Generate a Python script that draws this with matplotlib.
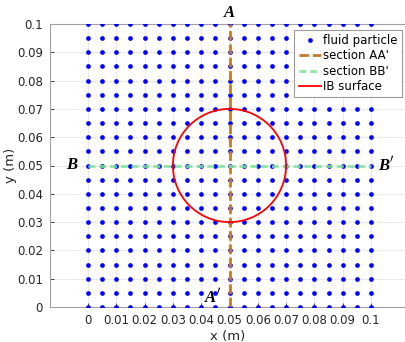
import numpy as np
import matplotlib.pyplot as plt
from matplotlib.patches import Circle

# grid of fluid particles
x_nodes = [0, 0.005, 0.01, 0.015, 0.02, 0.025, 0.03, 0.035, 0.04, 0.045, 0.05,
           0.055, 0.06, 0.065, 0.07, 0.075, 0.08, 0.085, 0.09, 0.095, 0.1]
y_nodes = list(x_nodes)

# sections and immersed boundary
section_aa_x = [0.05, 0.05]
section_aa_y = [0, 0.1]
section_bb_x = [0, 0.1]
section_bb_y = [0.05, 0.05]
ib_center = (0.05, 0.05)
ib_radius = 0.02

ticks = [0, 0.01, 0.02, 0.03, 0.04, 0.05, 0.06, 0.07, 0.08, 0.09, 0.1]
tick_labels = ['0', '0.01', '0.02', '0.03', '0.04', '0.05', '0.06', '0.07', '0.08', '0.09', '0.1']


def main():
    fig = plt.figure(figsize=(4.06, 3.42), dpi=100)
    ax = fig.add_axes([50 / 406, 35 / 342, 356 / 406, 283 / 342])

    gx, gy = np.meshgrid(x_nodes, y_nodes)
    ax.plot(gx.ravel(), gy.ravel(), 'o', color='#0000ff', markersize=3.4,
            markeredgewidth=0, linestyle='none', label='fluid particle', zorder=3)
    ax.plot(section_aa_x, section_aa_y, color='#c47a2c', linewidth=2.0,
            dashes=(3.5, 1.3), label="section AA'", zorder=4)
    ax.plot(section_bb_x, section_bb_y, color='#7fe39a', linewidth=2.1, alpha=0.85,
            dashes=(2.4, 1.3), label="section BB'", zorder=4)
    ax.add_patch(Circle(ib_center, ib_radius, fill=False, edgecolor='#ff0000',
                        linewidth=1.3, zorder=5))
    ax.plot([], [], color='#ff0000', linewidth=1.3, label='IB surface')

    ax.set_xlim(-38 / 2830, 318 / 2830)
    ax.set_ylim(0, 0.1)
    ax.set_xticks(ticks)
    ax.set_xticklabels(tick_labels)
    ax.set_yticks(ticks)
    ax.set_yticklabels(tick_labels)
    ax.tick_params(direction='in', length=3, labelsize=8.5, colors='#262626',
                   width=0.6, pad=5)
    ax.tick_params(axis='x', top=False)
    ax.grid(True, color='#e6e6e6', linewidth=0.6)
    ax.set_axisbelow(True)
    for side in ['left', 'bottom', 'top']:
        ax.spines[side].set_color('#a0a0a0')
        ax.spines[side].set_linewidth(0.8)
    ax.spines['right'].set_visible(False)

    ax.set_xlabel('x (m)', fontsize=9.5, color='#262626', labelpad=2)
    ax.set_ylabel('y (m)', fontsize=9.5, color='#262626', labelpad=0)

    lbl = dict(fontsize=12, fontweight='bold', fontstyle='italic',
               family='Liberation Serif', ha='center', va='center', clip_on=False)
    ax.text(0.0498, 0.1039, 'A', **lbl)
    ax.text(0.0442, 0.0036, "A$'$", **lbl)
    ax.text(-0.0057, 0.0502, 'B', **lbl)
    ax.text(0.1053, 0.0502, "B$'$", **lbl)

    leg = ax.legend(loc='upper right', bbox_to_anchor=(402 / 406, 1 - 30 / 342),
                    bbox_transform=fig.transFigure, fontsize=8.5, frameon=True,
                    framealpha=1, fancybox=False, borderpad=0.35, labelspacing=0.2,
                    numpoints=1, handlelength=1.9, handletextpad=0.2, borderaxespad=0)
    leg.set_zorder(10)
    leg.get_frame().set_edgecolor('#9a9a9a')
    leg.get_frame().set_linewidth(0.8)

    fig.savefig('out.png', dpi=100)


if __name__ == '__main__':
    main()
